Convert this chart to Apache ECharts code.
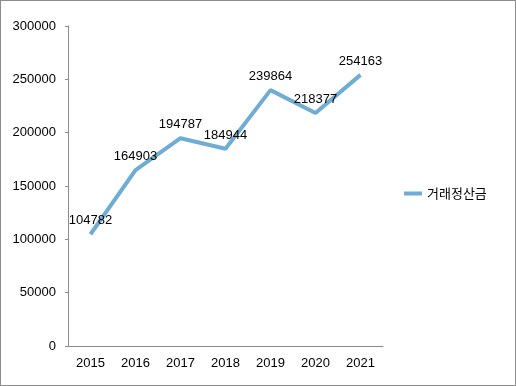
<!DOCTYPE html>
<html><head><meta charset="utf-8">
<script src="https://cdn.jsdelivr.net/npm/echarts@6/dist/echarts.min.js"></script>
<style>html,body{margin:0;padding:0;background:#fff}#c{width:516px;height:386px;box-sizing:border-box;border:1px solid #8c8c8c}</style>
</head><body><div id="c"></div>
<script>
const categories = ['2015','2016','2017','2018','2019','2020','2021'];
const seriesName = '거래정산금';
const values = [104782, 164903, 194787, 184944, 239864, 218377, 254163];
const yTicks = [0, 50000, 100000, 150000, 200000, 250000, 300000];

const chart = echarts.init(document.getElementById('c'), null, {renderer:'canvas'});
const font = '"Liberation Sans", "Noto Sans CJK KR", sans-serif';
const lineColor = '#6fadd4';
chart.setOption({
  animation:false,
  textStyle:{fontFamily:font},
  grid:{left:67, right:132, top:25, bottom:39, containLabel:false},
  legend:{
    data:[{name:seriesName, itemStyle:{color:lineColor, opacity:1}}], orient:'vertical', left:398, top:181,
    itemWidth:18, itemHeight:4, icon:'rect', itemGap:5,
    textStyle:{fontSize:13, color:'#000', fontFamily:'"Noto Sans CJK KR", sans-serif'}
  },
  xAxis:{
    type:'category', data:categories, boundaryGap:true,
    axisLine:{lineStyle:{color:'#8c8c8c', width:1}},
    axisTick:{show:false},
    axisLabel:{color:'#000', fontSize:13, margin:11, fontFamily:font}
  },
  yAxis:{
    type:'value', min:yTicks[0], max:yTicks[yTicks.length-1], interval:50000,
    axisLine:{show:true, lineStyle:{color:'#8c8c8c', width:1}},
    axisTick:{show:true, length:3, lineStyle:{color:'#8c8c8c'}},
    splitLine:{show:false},
    axisLabel:{color:'#000', fontSize:13, margin:12, fontFamily:font, formatter:v=>String(v)}
  },
  series:[{
    name:seriesName, type:'line', data:values, showSymbol:true, symbol:'circle', symbolSize:0,
    lineStyle:{color:lineColor, width:4}, itemStyle:{color:lineColor},
    label:{show:true, position:'top', distance:7, color:'#000', fontSize:13, fontFamily:font}
  }]
});
</script></body></html>
